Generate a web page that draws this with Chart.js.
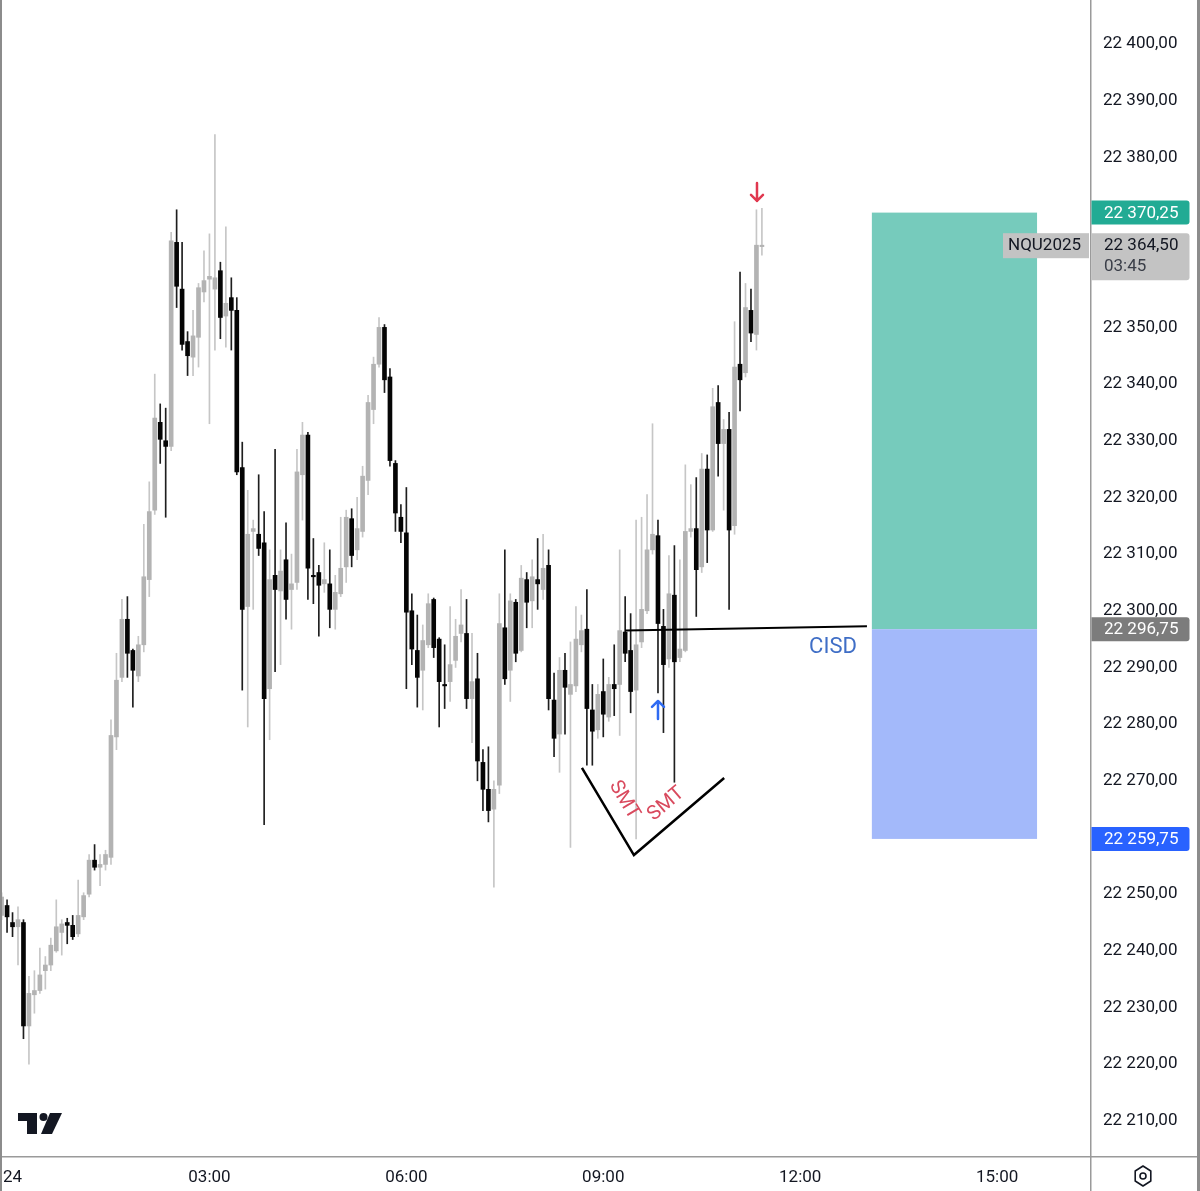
<!DOCTYPE html>
<html>
<head>
<meta charset="utf-8">
<script src="https://cdn.jsdelivr.net/npm/chart.js@4.4.1/dist/chart.umd.min.js"></script>
<style>
  html, body { margin: 0; padding: 0; background: #fff; }
  #wrap { width: 1200px; height: 1191px; }
</style>
</head>
<body>
<div id="wrap"><canvas id="myChart" width="1200" height="1191"></canvas></div>
<script>
// NQU2025, 5 min candles. candle index 2 = 00:00
const opens = [22246.25,22248,22245,22244.25,22245,22226.75,22232.25,22233,22236.5,22237.5,
  22240,22243.25,22245,22244.5,22243,22246,22250,22256,22254.75,22255.25,
  22256.5,22277.75,22288.25,22298.5,22293,22288.5,22294,22305.5,22317.75,22333.25,
  22330,22329,22365,22356.75,22347.5,22344.75,22348.25,22356.25,22358.5,22356.75,
  22360,22352,22355.25,22353,22325.25,22300.75,22314,22313.5,22312,22286.25,
  22306.25,22303.5,22309,22303.75,22305,22324,22331,22306.25,22306.75,22304.75,
  22304.75,22300.25,22303,22307.75,22316.25,22310.75,22314,22323,22335.5,22343.5,
  22350,22341.25,22326,22316.5,22313.75,22300,22293,22289.5,22294,22302,
  22295,22287,22287.5,22291.25,22296,22296,22284.5,22288,22273.25,22268.5,
  22265,22269.25,22297,22289.5,22301.5,22293,22305.5,22301.75,22305.5,22303.75,
  22308,22284.25,22278.25,22289.5,22285.25,22286.75,22294,22296.75,22282.5,22279,
  22285.75,22281.25,22287,22287,22296.25,22293,22286,22294.5,22300,22310.75,
  22313.25,22297.25,22291.5,22302.75,22291.75,22293,22314,22314.5,22307.75,22325,
  22314.25,22336.75,22329.5,22332,22315,22343.5,22342,22353,22348.75,22364.25];
const highs = [22250.25,22249,22246.75,22247.75,22245.5,22235.5,22236.5,22240.5,22239,22242.25,
  22249,22245.5,22245.75,22246.25,22252.5,22250.25,22257,22258.75,22257,22257.75,
  22280.75,22292.5,22302,22302.5,22293.25,22295.5,22315.25,22322.75,22341.75,22336.5,
  22335.75,22366.75,22370.75,22365,22349.25,22353,22357.75,22363.5,22366.5,22384,
  22361.5,22367.75,22358.75,22355.25,22329.75,22321.25,22316,22324,22317.5,22310.75,
  22328.5,22310.75,22315.5,22310,22328.5,22333.25,22331.5,22312.75,22308,22312,
  22310.75,22306.25,22316.5,22317.75,22318,22320,22325.5,22338,22344.75,22351.75,
  22350.5,22342.75,22326.5,22318.75,22321.75,22303,22299.25,22297.5,22303,22302.25,
  22295.25,22294,22300.75,22298.5,22303.75,22302,22296,22292.5,22275.5,22276,
  22270,22303,22310.75,22303,22302,22308,22306.75,22309,22312.75,22313.5,
  22310.75,22289,22291.75,22292.5,22294.5,22300.75,22299.25,22303.75,22287,22287,
  22291.5,22288.25,22294,22310.75,22302.5,22299.5,22316,22316.5,22320.5,22333,
  22316,22300.25,22309.75,22311.5,22309,22325.75,22322.25,22323.5,22327.75,22327.5,
  22339.25,22339.75,22333.75,22335,22351,22359.75,22357.75,22356.75,22370.75,22371];
const lows = [22245.5,22243.25,22242.5,22237.5,22224.5,22220,22229,22232.5,22233.25,22236.5,
  22239.75,22239.25,22241.25,22242,22242.5,22245.5,22249.5,22254.25,22251.5,22254.25,
  22255.25,22275.5,22287.5,22288.25,22283,22287.5,22292.75,22302.5,22317,22326,
  22316.5,22328.25,22353.5,22346,22341.5,22341.5,22343,22354.5,22333,22346,
  22348,22346.5,22346,22324,22286,22279.5,22300.25,22309.75,22262.25,22277.25,
  22289.25,22290.5,22298.5,22296.75,22303.75,22316,22302,22301.25,22295.5,22303.25,
  22297,22296.75,22302.5,22305,22307.75,22309,22313,22320.5,22333,22343,
  22338.5,22325.5,22314,22312,22286.25,22290.5,22283,22282.5,22293.5,22291.75,
  22279.5,22282.75,22284,22290,22294.5,22282.75,22276.75,22270,22264.75,22262.75,
  22251.25,22267.75,22287,22284,22291,22292.75,22297,22297,22300.25,22302,
  22282.5,22274.25,22271.5,22278.25,22258.25,22285.75,22292.75,22272.75,22272.75,22277.5,
  22277.75,22280.5,22281.5,22278,22291,22282,22259.75,22293.5,22299.5,22310,
  22285.5,22278.5,22290,22269.75,22291,22292.75,22313,22299,22306.75,22308.5,
  22314,22323.75,22317.75,22300.25,22313.5,22335.25,22341.25,22347.5,22346,22362.75];
const closes = [22249.5,22246,22244.25,22245.5,22226.75,22232.5,22233,22235.75,22237.5,22241,
  22244.25,22244.75,22244.5,22242.5,22246.25,22249.75,22256,22254.75,22255.25,22257,
  22278,22287.75,22298.5,22292.5,22289.5,22294,22306,22317.5,22334,22330.25,
  22329,22365.25,22357.25,22347,22345,22348.5,22357,22358.25,22359,22358.75,
  22351.75,22354.25,22353,22324.5,22300.25,22313.5,22314.5,22311,22284.5,22305.5,
  22303.75,22307,22302,22304.75,22324.5,22331,22307.5,22306,22304.5,22305.5,
  22300.25,22303.25,22307.5,22316.5,22309.75,22314.5,22323.75,22336.75,22343.5,22350,
  22340.75,22326.5,22317.25,22314,22299.75,22293.25,22288.25,22294.75,22301.25,22293.5,
  22287.5,22286.75,22290.5,22295.5,22297.5,22284.5,22287.5,22273.5,22268.5,22264.75,
  22268.5,22297.75,22288,22301.75,22292.5,22305.75,22301.5,22306,22304.75,22307.5,
  22284.5,22277.5,22289.5,22286.5,22287,22295,22296.5,22282.75,22278.75,22285.25,
  22281.75,22287,22286.25,22296.5,22292.5,22285.75,22294,22300.25,22310.75,22313.5,
  22297.75,22290.5,22303,22291,22293.25,22314,22314.5,22307.25,22325,22314.25,
  22336,22329.5,22332,22314.25,22343,22340.75,22353.5,22349,22364.5,22364.5];

const timeLabels = ['24', '03:00', '06:00', '09:00', '12:00', '15:00'];
const timeTicks = [2, 38, 74, 110, 146, 182];
const priceTicks = [22210, 22220, 22230, 22240, 22250, 22260, 22270, 22280, 22290, 22300,
  22310, 22320, 22330, 22340, 22350, 22360, 22370, 22380, 22390, 22400];

const symbol = 'NQU2025';
const lastPrice = 22364.50;
const countdown = '03:45';
const targetPrice = 22370.25;
const entryPrice = 22296.75;
const stopPrice = 22259.75;
const boxFrom = 159.1, boxTo = 189.3;
const cisdLine = [[114.0, 22296.5], [158.2, 22297.25]];
const cisdText = [152.0, 22293.6];
const smtLine = [[106.1, 22272.3], [115.6, 22256.9], [132.1, 22270.5]];
const smtText1 = [113.8, 22266.6];
const smtText2 = [121.5, 22265.9];
const upArrow = [120.0, 22282.5];
const downArrow = [138.1, 22373.9];

const upBody = '#b3b3b3', upWick = '#c6c6c6', downBody = '#050505', downWick = '#1e1e1e';
const isUp = i => closes[i] >= opens[i];
const font = 'Roboto';

const fmtPrice = v => {
  const [a, b] = v.toFixed(2).split('.');
  return a.slice(0, a.length - 3) + ' ' + a.slice(-3) + ',' + b;
};

const roundRectR = (ctx, x, y, w, h, r) => {
  ctx.beginPath();
  ctx.moveTo(x, y);
  ctx.lineTo(x + w - r, y);
  ctx.quadraticCurveTo(x + w, y, x + w, y + r);
  ctx.lineTo(x + w, y + h - r);
  ctx.quadraticCurveTo(x + w, y + h, x + w - r, y + h);
  ctx.lineTo(x, y + h);
  ctx.closePath();
};

const arrow = (ctx, x, yc, dir, color) => {
  ctx.strokeStyle = color;
  ctx.lineWidth = 2.5;
  ctx.lineCap = 'round';
  ctx.lineJoin = 'round';
  const half = 9;
  const tip = yc + dir * half;
  ctx.beginPath();
  ctx.moveTo(x, yc - dir * half);
  ctx.lineTo(x, tip);
  ctx.moveTo(x - 6, tip - dir * 6);
  ctx.lineTo(x, tip);
  ctx.lineTo(x + 6, tip - dir * 6);
  ctx.stroke();
};

const noPad = s => {
  s.paddingLeft = 0; s.paddingRight = 0; s.paddingTop = 0; s.paddingBottom = 0;
};

const overlay = {
  id: 'overlay',
  afterDraw(chart) {
    const { ctx, scales: { x, y } } = chart;
    const px = v => x.getPixelForValue(v);
    const py = v => y.getPixelForValue(v);
    ctx.save();

    // long position box
    const bx0 = px(boxFrom), bx1 = px(boxTo);
    ctx.fillStyle = '#76cbbc';
    ctx.fillRect(bx0, py(targetPrice), bx1 - bx0, py(entryPrice) - py(targetPrice));
    ctx.fillStyle = '#a3b9fa';
    ctx.fillRect(bx0, py(entryPrice), bx1 - bx0, py(stopPrice) - py(entryPrice));

    // CISD
    ctx.strokeStyle = '#000';
    ctx.lineWidth = 2;
    ctx.beginPath();
    ctx.moveTo(px(cisdLine[0][0]), py(cisdLine[0][1]));
    ctx.lineTo(px(cisdLine[1][0]), py(cisdLine[1][1]));
    ctx.stroke();
    ctx.fillStyle = '#3f6ec6';
    ctx.font = `22px ${font}`;
    ctx.textAlign = 'center';
    ctx.textBaseline = 'middle';
    ctx.fillText('CISD', px(cisdText[0]), py(cisdText[1]));

    // SMT
    const pts = smtLine.map(p => [px(p[0]), py(p[1])]);
    ctx.strokeStyle = '#000';
    ctx.lineWidth = 2.5;
    ctx.beginPath();
    ctx.moveTo(pts[0][0], pts[0][1]);
    ctx.lineTo(pts[1][0], pts[1][1]);
    ctx.lineTo(pts[2][0], pts[2][1]);
    ctx.stroke();
    ctx.fillStyle = '#d94a5e';
    ctx.font = `20px ${font}`;
    const a1 = Math.atan2(pts[1][1] - pts[0][1], pts[1][0] - pts[0][0]);
    const a2 = Math.atan2(pts[2][1] - pts[1][1], pts[2][0] - pts[1][0]);
    [[smtText1, a1], [smtText2, a2]].forEach(([p, a]) => {
      ctx.save();
      ctx.translate(px(p[0]), py(p[1]));
      ctx.rotate(a);
      ctx.fillText('SMT', 0, 0);
      ctx.restore();
    });

    arrow(ctx, px(upArrow[0]), py(upArrow[1]), -1, '#2f6bf2');
    arrow(ctx, px(downArrow[0]), py(downArrow[1]), 1, '#e0384f');

    // axis frame
    ctx.fillStyle = '#9a9a9a';
    ctx.fillRect(1090, 0, 1.5, 1191);
    ctx.fillRect(0, 1156, 1200, 1.5);
    ctx.fillStyle = '#8c8c8c';
    ctx.fillRect(0, 0, 2, 1191);
    ctx.fillRect(1197, 0, 3, 1191);

    // price tags
    ctx.textAlign = 'left';
    ctx.font = `17px ${font}`;
    const tag = (price, bg, fg) => {
      const yc = py(price);
      ctx.fillStyle = bg;
      roundRectR(ctx, 1091.5, yc - 12, 98, 24, 3);
      ctx.fill();
      ctx.fillStyle = fg;
      ctx.fillText(fmtPrice(price), 1104, yc + 1);
    };
    tag(targetPrice, '#22ab94', '#fff');
    tag(entryPrice, '#7c7c7c', '#fff');
    tag(stopPrice, '#2962ff', '#fff');

    // last price + countdown
    const yl = py(lastPrice);
    ctx.fillStyle = '#c3c3c3';
    roundRectR(ctx, 1091.5, yl - 12, 98, 47, 3);
    ctx.fill();
    ctx.fillRect(1003, yl - 12, 86, 25);
    ctx.fillStyle = '#131722';
    ctx.fillText(fmtPrice(lastPrice), 1104, yl + 1);
    ctx.fillText(symbol, 1008, yl + 1);
    ctx.fillStyle = '#3a3e48';
    ctx.fillText(countdown, 1104, yl + 22);

    // TradingView logo
    ctx.fillStyle = '#131722';
    ctx.fillRect(18, 1113, 19, 8);
    ctx.fillRect(27, 1113, 10, 21);
    ctx.beginPath();
    ctx.arc(43.5, 1117, 4, 0, Math.PI * 2);
    ctx.fill();
    ctx.beginPath();
    ctx.moveTo(50, 1113);
    ctx.lineTo(62, 1113);
    ctx.lineTo(52, 1134);
    ctx.lineTo(41, 1134);
    ctx.closePath();
    ctx.fill();

    // settings icon
    ctx.strokeStyle = '#131722';
    ctx.lineWidth = 1.6;
    ctx.beginPath();
    for (let k = 0; k < 6; k++) {
      const ang = Math.PI / 2 + k * Math.PI / 3;
      const hx = 1143 + 9 * Math.cos(ang), hy = 1176 + 10 * Math.sin(ang);
      if (k === 0) ctx.moveTo(hx, hy); else ctx.lineTo(hx, hy);
    }
    ctx.closePath();
    ctx.stroke();
    ctx.beginPath();
    ctx.arc(1143, 1176, 3, 0, Math.PI * 2);
    ctx.stroke();

    ctx.restore();
  }
};

new Chart(document.getElementById('myChart'), {
  type: 'bar',
  data: {
    datasets: [
      {
        label: 'body',
        data: opens.map((o, i) => ({ x: i, y: [o, closes[i]] })),
        backgroundColor: c => isUp(c.dataIndex) ? upBody : downBody,
        barThickness: 4,
        minBarLength: 1,
        borderWidth: 0,
        grouped: false,
        order: 0
      },
      {
        label: 'wick',
        data: lows.map((l, i) => ({ x: i, y: [l, highs[i]] })),
        backgroundColor: c => isUp(c.dataIndex) ? upWick : downWick,
        barThickness: 1,
        borderWidth: 0,
        grouped: false,
        order: 1
      }
    ]
  },
  options: {
    responsive: false,
    animation: false,
    devicePixelRatio: 1,
    layout: { padding: 0 },
    plugins: { legend: { display: false }, tooltip: { enabled: false } },
    scales: {
      x: {
        type: 'linear',
        min: -0.29,
        max: 198.98,
        offset: false,
        grid: { display: false, drawTicks: false },
        border: { display: false },
        ticks: {
          autoSkip: false,
          maxRotation: 0,
          padding: 11,
          color: '#131722',
          font: { family: font, size: 17 },
          callback: v => timeLabels[timeTicks.indexOf(v)]
        },
        afterBuildTicks: s => { s.ticks = timeTicks.map(v => ({ value: v })); },
        afterFit: s => { s.height = 34; noPad(s); }
      },
      y: {
        type: 'linear',
        position: 'right',
        min: 22203.63,
        max: 22407.76,
        beginAtZero: false,
        grid: { display: false, drawTicks: false },
        border: { display: false },
        ticks: {
          padding: 13,
          crossAlign: 'near',
          color: '#131722',
          font: { family: font, size: 17 },
          callback: v => fmtPrice(v)
        },
        afterBuildTicks: s => { s.ticks = priceTicks.map(v => ({ value: v })); },
        afterFit: s => { s.width = 110; noPad(s); }
      }
    }
  },
  plugins: [overlay]
});
</script>
</body>
</html>
